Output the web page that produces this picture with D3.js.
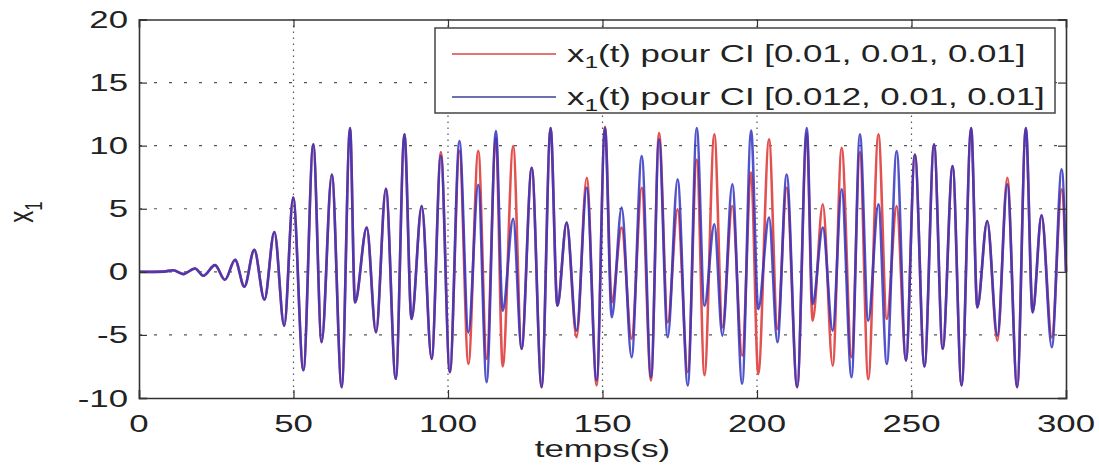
<!DOCTYPE html>
<html>
<head>
<meta charset="utf-8">
<script src="https://cdn.jsdelivr.net/npm/d3@7"></script>
<style>
  body { margin: 0; background: #fff; }
  svg { display: block; }
  text { font-family: "Liberation Sans", Arial, sans-serif; fill: #222; }
</style>
</head>
<body>
<div id="chart"></div>
<script>
// extremums (temps en s)
var tempsExt = [0, 8, 11.1, 14.3, 18.1, 20.8, 24.6, 27.8, 31.1, 34.1, 37.3, 40.6, 43.8, 47.0, 49.9, 53.2,
    56.4, 59.1, 62.4, 65.6, 68.3, 69.9, 73.7, 76.7, 79.9, 83.1, 85.9, 88.2, 91.5, 94.7, 97.7, 100.6,
    103.7, 106.6, 109.8, 112.5, 115.5, 117.7, 121.1, 123.8, 127.1, 130.3, 133.2, 135.4, 138.4, 141.6,
    144.9, 148.1, 150.8, 153.0, 156.2, 159.4, 162.7, 165.7, 168.3, 171.1, 174.3, 177.6, 180.5, 183.0,
    186.2, 188.8, 192.0, 195.2, 198.1, 200.4, 203.9, 206.6, 209.6, 213.0, 216.1, 218.0, 221.3, 224.5,
    227.4, 230.6, 233.3, 236.0, 239.3, 242.0, 245.2, 248.2, 251.1, 254.2, 257.3, 260.1, 263.3, 266.2,
    269.3, 271.3, 274.5, 277.8, 281.0, 284.2, 287.0, 289.2, 292.1, 295.4, 298.6, 300];

// x1(t) pour CI [0.01, 0.01, 0.01]
var x1Rouge = [0, 0.02, 0.13, -0.18, 0.27, -0.31, 0.53, -0.63, 0.95, -1.18, 1.74, -2.2, 3.16, -4.27, 5.88, -7.8,
    10.1, -5.58, 7.72, -9.14, 11.4, -2.42, 3.5, -4.79, 6.59, -8.48, 10.9, -3.74, 5.22, -6.9, 9.5, -7.95,
    9.6, -7.3, 9.6, -6.9, 10.6, -7.5, 9.97, -6.1, 8.25, -9.14, 11.4, -2.69, 3.9, -5.19,
    7.46, -9.0, 11.5, -2.42, 3.5, -5.3, 6.67, -8.6, 11.0, -4.0, 4.96, -7.95, 8.9, -8.2,
    10.9, -4.4, 5.22, -6.64, 7.86, -8.1, 10.5, -4.53, 6.67, -9.14, 11.0, -3.87, 5.35, -7.43,
    9.83, -6.77, 9.5, -8.5, 10.9, -3.74, 5.22, -7.03, 9.3, -7.5, 10.1, -6.1, 8.38, -9.0,
    11.4, -2.82, 4.03, -5.45, 7.46, -9.14, 11.4, -3.21, 4.48, -5.2, 6.54, 0];

// x1(t) pour CI [0.012, 0.01, 0.01]
var x1Bleu = [0, 0.02, 0.13, -0.18, 0.27, -0.31, 0.53, -0.63, 0.95, -1.18, 1.74, -2.2, 3.16, -4.27, 5.88, -7.8,
    10.1, -5.58, 7.72, -9.14, 11.4, -2.42, 3.5, -4.79, 6.59, -8.48, 10.9, -3.74, 5.22, -6.9, 9.2, -7.95,
    10.36, -4.8, 6.9, -8.74, 11.15, -3.08, 4.2, -6.1, 8.25, -9.14, 11.4, -2.69, 3.9, -4.66,
    6.67, -8.6, 11.4, -3.6, 5.09, -6.77, 9.17, -8.35, 10.5, -5.19, 7.33, -9.0, 11.4, -2.69,
    3.77, -5.06, 6.93, -8.87, 11.2, -2.95, 4.3, -5.58, 7.72, -9.14, 11.4, -2.55, 3.5, -4.66,
    6.54, -8.35, 10.9, -3.87, 5.35, -7.3, 9.57, -7.03, 9.3, -7.5, 10.1, -6.1, 8.38, -9.0,
    11.4, -2.82, 4.03, -5.06, 6.93, -9.14, 11.4, -3.21, 4.48, -5.98, 8.12, 0];

var xTicks = [0, 50, 100, 150, 200, 250, 300];
var yTicks = [-10, -5, 0, 5, 10, 15, 20];
var legendNames = ["[0.01, 0.01, 0.01]", "[0.012, 0.01, 0.01]"];

var width = 1099, height = 466;
var plotLeft = 139, plotRight = 1066, plotTop = 19.5, plotBottom = 398;
var stretch = 1.45; // la figure d'origine est etiree en largeur
var fontSize = 24;

var svg = d3.select("#chart").append("svg")
    .attr("width", width)
    .attr("height", height);

var x = d3.scaleLinear().domain([0, 300]).range([plotLeft, plotRight]);
var y = d3.scaleLinear().domain([-10, 20]).range([plotBottom, plotTop]);

//Grid
var grid = svg.append("g").attr("class", "grid");
grid.selectAll("line.gx")
    .data(xTicks.slice(1, -1))
    .enter().append("line")
    .attr("x1", function (d) { return x(d); })
    .attr("x2", function (d) { return x(d); })
    .attr("y1", plotTop).attr("y2", plotBottom)
    .attr("stroke", "#555").attr("stroke-width", 1.2)
    .attr("stroke-dasharray", "1.5,4.5");
grid.selectAll("line.gy")
    .data(yTicks.slice(1, -1))
    .enter().append("line")
    .attr("y1", function (d) { return y(d); })
    .attr("y2", function (d) { return y(d); })
    .attr("x1", plotLeft).attr("x2", plotRight)
    .attr("stroke", "#555").attr("stroke-width", 1.2)
    .attr("stroke-dasharray", "3,12");

//Curves
var line = d3.line()
    .x(function (d) { return x(d[0]); })
    .y(function (d) { return y(d[1]); })
    .curve(d3.curveMonotoneX);

var plot = svg.append("g");
plot.append("path")
    .datum(d3.zip(tempsExt, x1Rouge))
    .attr("d", line)
    .attr("fill", "none")
    .attr("stroke", "#e25050")
    .attr("stroke-width", 2.6);
plot.append("path")
    .datum(d3.zip(tempsExt, x1Bleu))
    .attr("d", line)
    .attr("fill", "none")
    .attr("stroke", "#3434c0")
    .attr("stroke-opacity", 0.85)
    .attr("stroke-width", 2.6);

//Axes (ticks inward, MATLAB style)
var axB = svg.append("g").attr("transform", "translate(0," + plotBottom + ")")
    .call(d3.axisBottom(x).tickValues(xTicks).tickSize(-8).tickFormat(""));
var axT = svg.append("g").attr("transform", "translate(0," + plotTop + ")")
    .call(d3.axisTop(x).tickValues(xTicks).tickSize(-8).tickFormat(""));
var axL = svg.append("g").attr("transform", "translate(" + plotLeft + ",0)")
    .call(d3.axisLeft(y).tickValues(yTicks).tickSize(-8).tickFormat(""));
var axR = svg.append("g").attr("transform", "translate(" + plotRight + ",0)")
    .call(d3.axisRight(y).tickValues(yTicks).tickSize(-8).tickFormat(""));
[axB, axT, axL, axR].forEach(function (a) {
    a.selectAll("path.domain").attr("stroke", "#333").attr("stroke-width", 1.6);
    a.selectAll(".tick line").attr("stroke", "#333").attr("stroke-width", 1.2);
});

//Tick labels
svg.selectAll("text.xl")
    .data(xTicks)
    .enter().append("text")
    .attr("class", "xl")
    .attr("transform", function (d) { return "translate(" + x(d) + ",432) scale(" + stretch + ",1)"; })
    .attr("text-anchor", "middle")
    .style("font-size", fontSize + "px")
    .text(function (d) { return d; });

svg.selectAll("text.yl")
    .data(yTicks)
    .enter().append("text")
    .attr("class", "yl")
    .attr("transform", function (d) { return "translate(128," + (y(d) + 8.5) + ") scale(" + stretch + ",1)"; })
    .attr("text-anchor", "end")
    .style("font-size", fontSize + "px")
    .text(function (d) { return d; });

//Axis titles
svg.append("text")
    .attr("transform", "translate(" + ((plotLeft + plotRight) / 2) + ",457) scale(" + stretch + ",1)")
    .attr("text-anchor", "middle")
    .style("font-size", fontSize + "px")
    .text("temps(s)");

var yTitle = svg.append("text")
    .attr("transform", "translate(33,212) scale(" + stretch + ",1) rotate(-90)")
    .attr("text-anchor", "middle")
    .style("font-size", fontSize + "px");
yTitle.append("tspan").text("x");
yTitle.append("tspan").attr("dy", 6).style("font-size", "17px").text("1");

//Legend
var legend = svg.append("g");
legend.append("rect")
    .attr("x", 435).attr("y", 28)
    .attr("width", 1055 - 435).attr("height", 113 - 28)
    .attr("fill", "#fff")
    .attr("stroke", "#444").attr("stroke-width", 1.5);

var legendColors = ["#d94848", "#3e3e98"];
legendNames.forEach(function (name, i) {
    var ly = 54 + i * 43;
    legend.append("line")
        .attr("x1", 452).attr("x2", 556)
        .attr("y1", ly).attr("y2", ly)
        .attr("stroke", legendColors[i]).attr("stroke-width", 1.6);
    var t = legend.append("text")
        .attr("transform", "translate(567," + (ly + 8) + ") scale(" + stretch + ",1)")
        .style("font-size", fontSize + "px");
    t.append("tspan").text("x");
    t.append("tspan").attr("dy", 6).style("font-size", "17px").text("1");
    t.append("tspan").attr("dy", -6).text("(t) pour CI " + name);
});
</script>
</body>
</html>
